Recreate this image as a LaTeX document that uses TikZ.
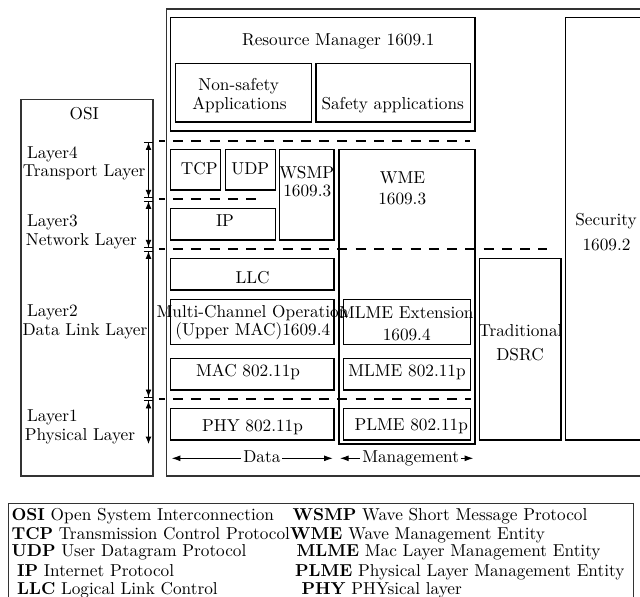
\documentclass[tikz,border=0pt]{standalone}
\usetikzlibrary{arrows.meta,fit}
\begin{document}
\begin{tikzpicture}[x=0.58pt,y=-0.58pt,
  box/.style={draw, line width=0.6pt, inner sep=0pt},
  frame/.style={draw=black!80, line width=0.75pt, inner sep=0pt},
  lab/.style={anchor=base, inner sep=0pt},
  lay/.style={anchor=base west, inner sep=0pt},
  layerline/.style={line width=1.2pt, dash pattern=on 5.8pt off 4.8pt, dash phase=2.5pt},
  span/.style={line width=0.5pt, {Bar[width=5.5pt]Latex[length=4.3pt,width=3.4pt]}-{Latex[length=4.3pt,width=3.4pt]Bar[width=5.5pt]}},
  spanlast/.style={line width=0.5pt, {Bar[width=5.5pt]Latex[length=4.3pt,width=3.4pt]}-{Latex[length=4.3pt,width=3.4pt]}},
  flow/.style={line width=0.5pt, {Latex[length=5pt,width=3.4pt]}-{Latex[length=5pt,width=3.4pt]}},
  flowlab/.style={fill=white, inner sep=1.2pt, text depth=1.94pt}]

\path[use as bounding box] (0,0) rectangle (640,596);
\clip (0,0) rectangle (640,596);

% frames
\node[frame, fit={(166.7,9) (700,476)}] (stack) {};
\node[frame, fit={(21,99.3) (153,476)}] (osi) {};
\node[frame, fit={(8.3,503.3) (633.3,620)}] (legend) {};

% upper layers
\node[box, fit={(170.7,17.7) (475,131)}] (rm) {};
\node[box, fit={(175.3,63.3) (311.7,122)}] (nonsafe) {};
\node[box, fit={(316,63.3) (470.7,122)}] (safe) {};
\node[box, fit={(170.7,149.3) (220.7,190)}] (tcp) {};
\node[box, fit={(225.3,149.3) (275.3,190)}] (udp) {};
\node[box, fit={(279.3,149.3) (334,240)}] (wsmp) {};
\node[box, fit={(170.7,208.3) (275.3,240)}] (ip) {};
\node[box, fit={(339,149.7) (475,444)}] (wme) {};

% data link and physical layers
\node[box, fit={(170.7,258.3) (334,290)}] (llc) {};
\node[box, fit={(170.7,299.3) (334,344.3)}] (mco) {};
\node[box, fit={(170.7,358.3) (334,390)}] (mac) {};
\node[box, fit={(170.7,408.3) (334,440)}] (phy) {};
\node[box, fit={(343.3,299.3) (470.7,344.3)}] (mlmeext) {};
\node[box, fit={(343.3,358.3) (470.7,390)}] (mlme) {};
\node[box, fit={(343.3,408.3) (470.7,440)}] (plme) {};
\node[box, fit={(479.3,258.3) (561,440)}] (dsrc) {};
\node[box, fit={(565.7,17.7) (700,440)}] (sec) {};

% box texts
\node[lab] (rm-t) at (338.3,45) {Resource Manager 1609.1};
\node[lab] (nonsafe-t1) at (238.7,90.7) {Non-safety};
\node[lab] (nonsafe-t2) at (239.5,109) {Applications};
\node[lab] (safe-t) at (392.7,109) {Safety applications};
\node[lab] (tcp-t) at (199.2,174) {TCP};
\node[lab] (udp-t) at (250.3,174) {UDP};
\node[lab] (wsmp-t1) at (306.7,178.3) {WSMP};
\node[lab] (wsmp-t2) at (307.3,196.7) {1609.3};
\node[lab] (ip-t) at (225,226.7) {IP};
\node[lab] (wme-t1) at (402.5,183.7) {WME};
\node[lab] (wme-t2) at (402.2,204) {1609.3};
\node[lab] (sec-t1) at (606,225.7) {Security};
\node[lab] (sec-t2) at (606.5,250.7) {1609.2};
\node[lab] (llc-t) at (252.5,283.3) {LLC};
\node[lab] (mco-t1) at (252.5,317.3) {Multi-Channel Operation};
\node[lab] (mco-t2) at (252.8,335.5) {(Upper MAC)1609.4};
\node[lab] (mac-t) at (248,376.7) {MAC 802.11p};
\node[lab] (phy-t) at (252.5,431.7) {PHY 802.11p};
\node[lab] (mlmeext-t1) at (406.3,318.3) {MLME Extension};
\node[lab] (mlmeext-t2) at (406.7,340.7) {1609.4};
\node[lab] (mlme-t) at (407,376) {MLME 802.11p};
\node[lab] (plme-t) at (411.2,430.7) {PLME 802.11p};
\node[lab] (dsrc-t1) at (520.5,336.7) {Traditional};
\node[lab] (dsrc-t2) at (520,360) {DSRC};

% OSI column
\node[lab] (osi-t) at (84.3,119.3) {OSI};
\node[lay] (l4a) at (26.8,158.3) {Layer4};
\node[lay] (l4b) at (22.5,176.7) {Transport Layer};
\node[lay] (l3a) at (26.8,226.7) {Layer3};
\node[lay] (l3b) at (25.5,245) {Network Layer};
\node[lay] (l2a) at (26.8,316.7) {Layer2};
\node[lay] (l2b) at (22.2,335) {Data Link Layer};
\node[lay] (l1a) at (26.8,421.7) {Layer1};
\node[lay] (l1b) at (24.5,440) {Physical Layer};

% layer boundaries
\coordinate (b4) at (148.5,141);
\coordinate (b43) at (148.5,199.3);
\coordinate (b32) at (148.5,249.3);
\coordinate (b21) at (148.5,399);
\coordinate (b1) at (148.5,444);
\draw[span] ([yshift=-0.4pt]b4) -- ([yshift=0.7pt]b43);
\draw[span] ([yshift=-0.7pt]b43) -- ([yshift=0.7pt]b32);
\draw[span] ([yshift=-0.7pt]b32) -- ([yshift=0.7pt]b21);
\draw[spanlast] ([yshift=-0.7pt]b21) -- (b1);

\coordinate (d4a) at (159,141);   \coordinate (d4b) at (470,141);
\coordinate (d3a) at (159,199.3); \coordinate (d3b) at (263,199.3);
\coordinate (d2a) at (159,249.3); \coordinate (d2b) at (546.7,249.3);
\coordinate (d1a) at (159,399);   \coordinate (d1b) at (470.7,399);
\draw[layerline] (d4a) -- (d4b);
\draw[layerline] (d3a) -- (d3b);
\draw[layerline] (d2a) -- (d2b);
\draw[layerline] (d1a) -- (d1b);

% data / management planes
\coordinate (da) at (171.7,458.3); \coordinate (db) at (332.7,458.3);
\coordinate (ma) at (340,458.3);   \coordinate (mb) at (473.3,458.3);
\draw[flow] (da) -- node[flowlab, pos=0.56] (data-t) {Data} (db);
\draw[flow] (ma) -- node[flowlab, pos=0.53] (mgmt-t) {Management} (mb);

% legend
\node[lay] (g1) at (11.2,520.7) {\textbf{OSI} Open System Interconnection};
\node[lay] (g2) at (11.2,539) {\textbf{TCP} Transmission Control Protocol};
\node[lay] (g3) at (11.2,556.7) {\textbf{UDP} User Datagram Protocol};
\node[lay] (g4) at (16.8,576) {\textbf{IP} Internet Protocol};
\node[lay] (g5) at (16.8,594) {\textbf{LLC} Logical Link Control};
\node[lay] (g6) at (292.2,520.7) {\textbf{WSMP} Wave Short Message Protocol};
\node[lay] (g7) at (289.8,539) {\textbf{WME} Wave Management Entity};
\node[lay] (g8) at (296.2,556.7) {\textbf{MLME} Mac Layer Management Entity};
\node[lay] (g9) at (294.8,576) {\textbf{PLME} Physical Layer Management Entity};
\node[lay] (g10) at (301.2,594) {\textbf{PHY} PHYsical layer};
\end{tikzpicture}
\end{document}
